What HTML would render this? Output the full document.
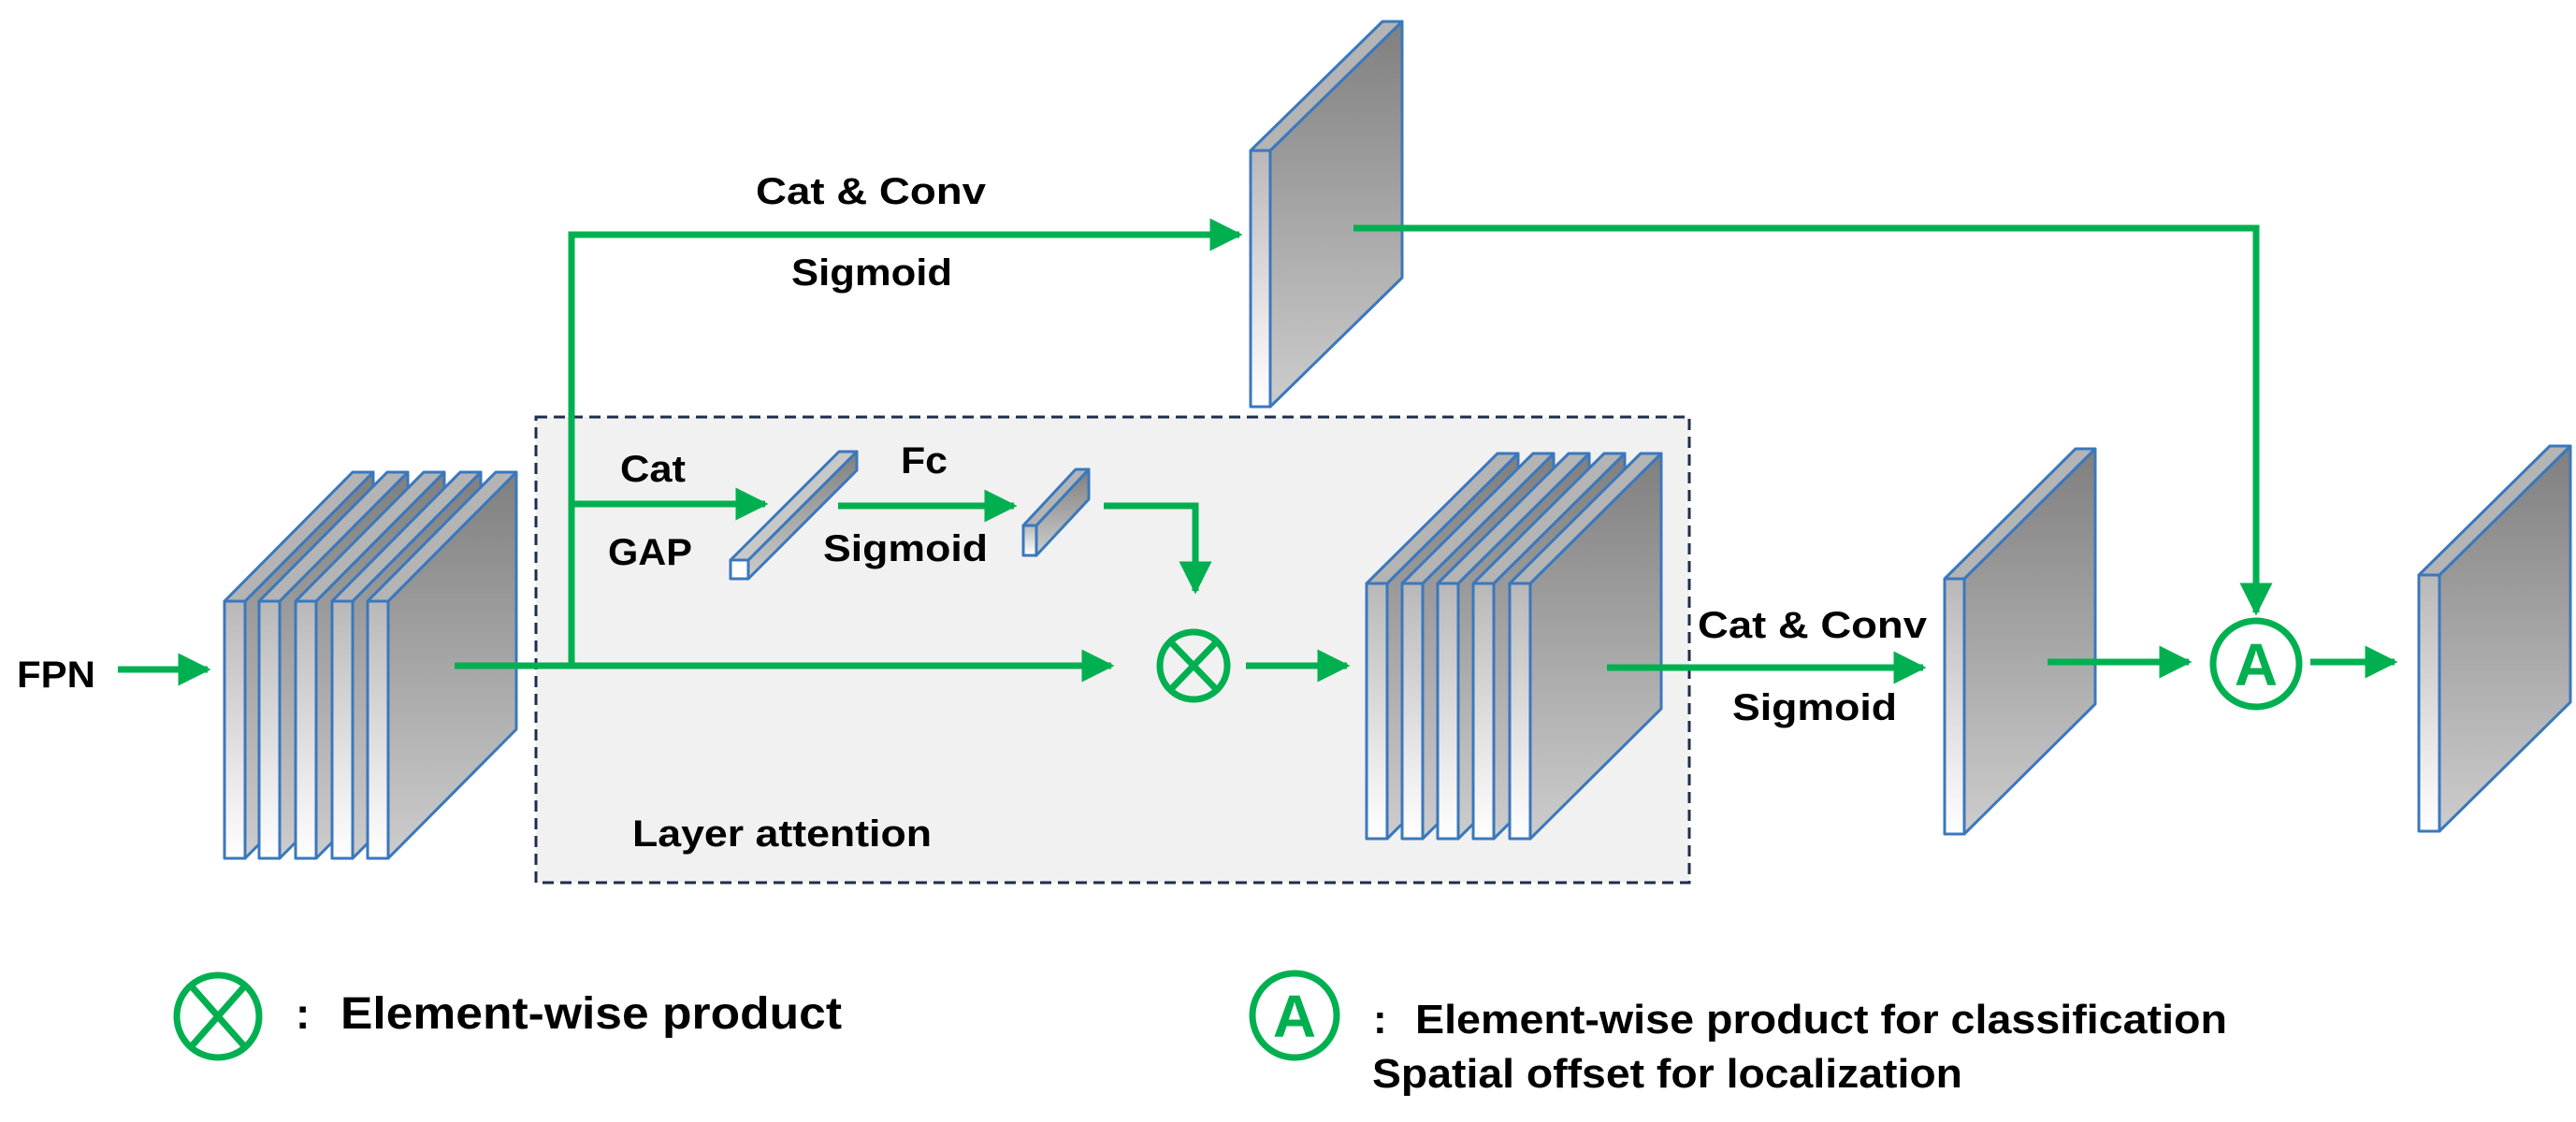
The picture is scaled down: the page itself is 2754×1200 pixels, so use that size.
<!DOCTYPE html>
<html><head><meta charset="utf-8"><style>html,body{margin:0;padding:0;background:#fff}svg{display:block}</style></head>
<body>
<svg width="2754" height="1200" viewBox="0 0 2754 1200" xmlns="http://www.w3.org/2000/svg" font-family="'Liberation Sans', 'Noto Sans CJK SC', sans-serif" font-weight="bold">
<defs>
<linearGradient id="gf" x1="0" y1="0" x2="0" y2="1"><stop offset="0" stop-color="#b8b8b8"/><stop offset="1" stop-color="#ffffff"/></linearGradient>
<linearGradient id="gs" x1="0" y1="0" x2="0" y2="1"><stop offset="0" stop-color="#7f7f7f"/><stop offset="1" stop-color="#cdcdcd"/></linearGradient>
<marker id="ah" markerWidth="5" markerHeight="5" refX="4.5" refY="2.5" orient="auto" markerUnits="strokeWidth"><path d="M0,0 L5,2.5 L0,5 z" fill="#00b050"/></marker>
</defs>
<rect x="573" y="446" width="1233" height="498" fill="#f1f1f1" stroke="#1f2d4d" stroke-width="3" stroke-dasharray="12,7"/>
<g stroke="#3a78bd" stroke-width="3" stroke-linejoin="round">
<!-- stack 1 -->
<polygon fill="url(#gs)" points="262,643 399,505 399,780 262,918"/><polygon fill="#b4b4b4" points="240,643 377,505 399,505 262,643"/><rect fill="url(#gf)" x="240" y="643" width="22" height="275"/>
<polygon fill="url(#gs)" points="299,643 436,505 436,780 299,918"/><polygon fill="#b4b4b4" points="277,643 414,505 436,505 299,643"/><rect fill="url(#gf)" x="277" y="643" width="22" height="275"/>
<polygon fill="url(#gs)" points="338,643 475,505 475,780 338,918"/><polygon fill="#b4b4b4" points="316,643 453,505 475,505 338,643"/><rect fill="url(#gf)" x="316" y="643" width="22" height="275"/>
<polygon fill="url(#gs)" points="377,643 514,505 514,780 377,918"/><polygon fill="#b4b4b4" points="355,643 492,505 514,505 377,643"/><rect fill="url(#gf)" x="355" y="643" width="22" height="275"/>
<polygon fill="url(#gs)" points="415,643 552,505 552,780 415,918"/><polygon fill="#b4b4b4" points="393,643 530,505 552,505 415,643"/><rect fill="url(#gf)" x="393" y="643" width="22" height="275"/>
<!-- stack 2 -->
<polygon fill="url(#gs)" points="1483,624 1623,485 1623,758 1483,897"/><polygon fill="#b4b4b4" points="1461,624 1601,485 1623,485 1483,624"/><rect fill="url(#gf)" x="1461" y="624" width="22" height="273"/>
<polygon fill="url(#gs)" points="1521,624 1661,485 1661,758 1521,897"/><polygon fill="#b4b4b4" points="1499,624 1639,485 1661,485 1521,624"/><rect fill="url(#gf)" x="1499" y="624" width="22" height="273"/>
<polygon fill="url(#gs)" points="1559,624 1699,485 1699,758 1559,897"/><polygon fill="#b4b4b4" points="1537,624 1677,485 1699,485 1559,624"/><rect fill="url(#gf)" x="1537" y="624" width="22" height="273"/>
<polygon fill="url(#gs)" points="1597,624 1737,485 1737,758 1597,897"/><polygon fill="#b4b4b4" points="1575,624 1715,485 1737,485 1597,624"/><rect fill="url(#gf)" x="1575" y="624" width="22" height="273"/>
<polygon fill="url(#gs)" points="1636,624 1776,485 1776,758 1636,897"/><polygon fill="#b4b4b4" points="1614,624 1754,485 1776,485 1636,624"/><rect fill="url(#gf)" x="1614" y="624" width="22" height="273"/>
<!-- top plate -->
<polygon fill="url(#gs)" points="1358,161 1499,23 1499,297 1358,435"/><polygon fill="#b4b4b4" points="1337,161 1478,23 1499,23 1358,161"/><rect fill="url(#gf)" x="1337" y="161" width="21" height="274"/>
<!-- plate 3 -->
<polygon fill="url(#gs)" points="2100,619 2240,480 2240,753 2100,892"/><polygon fill="#b4b4b4" points="2079,619 2219,480 2240,480 2100,619"/><rect fill="url(#gf)" x="2079" y="619" width="21" height="273"/>
<!-- plate 4 -->
<polygon fill="url(#gs)" points="2608,615 2748,477 2748,751 2608,889"/><polygon fill="#b4b4b4" points="2586,615 2726,477 2748,477 2608,615"/><rect fill="url(#gf)" x="2586" y="615" width="22" height="274"/>
<!-- bar -->
<polygon fill="url(#gs)" points="800,599 916,483 916,503 800,619"/><polygon fill="#c8c8c8" points="781,599 897,483 916,483 800,599"/><rect fill="#fff" x="781" y="599" width="19" height="20"/>
<!-- small bar -->
<polygon fill="url(#gs)" points="1108,562 1164,502 1164,534 1108,594"/><polygon fill="#b4b4b4" points="1094,562 1150,502 1164,502 1108,562"/><rect fill="url(#gf)" x="1094" y="562" width="14" height="32"/>
</g>
<g stroke="#00b050" stroke-width="7" fill="none">
<line x1="126" y1="716" x2="222" y2="716" marker-end="url(#ah)"/>
<polyline points="486,712 1188,712" marker-end="url(#ah)"/>
<polyline points="611,712 611,251 1325,251" marker-end="url(#ah)"/>
<polyline points="611,539 818,539" marker-end="url(#ah)"/>
<polyline points="896,541 1084,541" marker-end="url(#ah)"/>
<polyline points="1180,541 1278,541 1278,632" marker-end="url(#ah)"/>
<circle cx="1276" cy="712" r="36"/>
<line x1="1251" y1="686" x2="1301" y2="738"/><line x1="1301" y1="686" x2="1251" y2="738"/>
<line x1="1332" y1="712" x2="1440" y2="712" marker-end="url(#ah)"/>
<line x1="1718" y1="714" x2="2056" y2="714" marker-end="url(#ah)"/>
<polyline points="1447,244 2412,244 2412,655" marker-end="url(#ah)"/>
<line x1="2189" y1="708" x2="2340" y2="708" marker-end="url(#ah)"/>
<circle cx="2412" cy="710" r="46"/>
<line x1="2470" y1="708" x2="2560" y2="708" marker-end="url(#ah)"/>
<circle cx="233" cy="1087" r="44"/>
<line x1="203" y1="1053" x2="263" y2="1121"/><line x1="263" y1="1053" x2="203" y2="1121"/>
<circle cx="1384" cy="1086" r="45"/>
</g>
<g fill="#00b050" font-size="64" text-anchor="middle"><text x="2412" y="733">A</text><text x="1384" y="1109">A</text></g>
<g fill="#000" font-size="40">
<text x="18" y="735" textLength="84" lengthAdjust="spacingAndGlyphs">FPN</text>
<text x="808" y="218" textLength="246" lengthAdjust="spacingAndGlyphs">Cat &amp; Conv</text>
<text x="846" y="305" textLength="172" lengthAdjust="spacingAndGlyphs">Sigmoid</text>
<text x="663" y="515" textLength="70" lengthAdjust="spacingAndGlyphs">Cat</text>
<text x="650" y="604" textLength="90" lengthAdjust="spacingAndGlyphs">GAP</text>
<text x="963" y="506" textLength="50" lengthAdjust="spacingAndGlyphs">Fc</text>
<text x="880" y="600" textLength="176" lengthAdjust="spacingAndGlyphs">Sigmoid</text>
<text x="676" y="905" textLength="320" lengthAdjust="spacingAndGlyphs">Layer attention</text>
<text x="1815" y="682" textLength="245" lengthAdjust="spacingAndGlyphs">Cat &amp; Conv</text>
<text x="1852" y="770" textLength="176" lengthAdjust="spacingAndGlyphs">Sigmoid</text>
<text x="316" y="1100" font-size="46">:</text>
<text x="364" y="1100" font-size="48" textLength="536" lengthAdjust="spacingAndGlyphs">Element-wise product</text>
<text x="1468" y="1105" font-size="44">:</text>
<text x="1513" y="1105" font-size="44" textLength="868" lengthAdjust="spacingAndGlyphs">Element-wise product for classification</text>
<text x="1467" y="1163" font-size="44" textLength="631" lengthAdjust="spacingAndGlyphs">Spatial offset for localization</text>
</g>
</svg>
</body></html>
